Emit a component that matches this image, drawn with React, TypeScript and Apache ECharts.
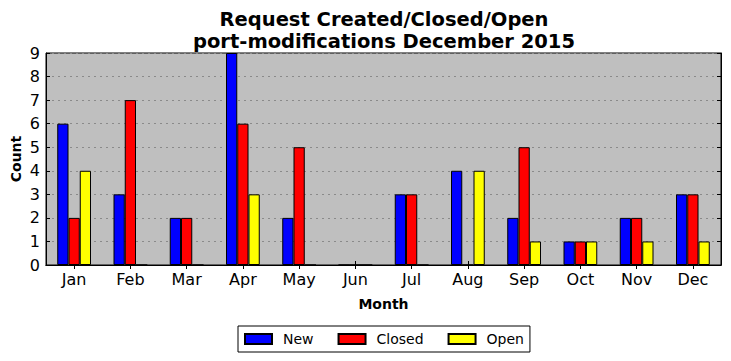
import React, { useEffect, useRef } from "react";
import * as echarts from "echarts";

const months = ["Jan", "Feb", "Mar", "Apr", "May", "Jun", "Jul", "Aug", "Sep", "Oct", "Nov", "Dec"];
const newCounts = [6, 3, 2, 9, 2, 0, 3, 4, 2, 1, 2, 3];
const closedCounts = [2, 7, 2, 6, 5, 0, 3, 0, 5, 1, 2, 3];
const openCounts = [4, 0, 0, 3, 0, 0, 0, 4, 1, 1, 1, 1];

const FONT = "DejaVu Sans";

export default function App() {
  const ref = useRef<HTMLDivElement>(null);
  useEffect(() => {
    if (!ref.current) return;
    const chart = echarts.init(ref.current, null, { renderer: "svg" });
    const barStyle = (color: string) => ({
      color,
      borderColor: "#000",
      borderWidth: 1,
    });
    chart.setOption({
      animation: false,
      textStyle: { fontFamily: FONT },
      title: {
        text: "Request Created/Closed/Open\nport-modifications December 2015",
        left: 379,
        textAlign: "center",
        top: 3,
        textStyle: { fontFamily: FONT, fontSize: 19.5, fontWeight: "bold", color: "#000", lineHeight: 22 },
      },
      legend: {
        left: 238,
        top: 326,
        padding: [6, 6, 6, 6],
        borderColor: "#000",
        borderWidth: 1,
        itemWidth: 27,
        itemHeight: 10,
        itemGap: 24,
        icon: "rect",
        textStyle: { fontFamily: FONT, fontSize: 14, color: "#000", padding: [0, 0, 0, 6] },
        data: ["New", "Closed", "Open"],
      },
      grid: {
        left: 46,
        right: 10,
        top: 53,
        bottom: 96,
        outerBoundsMode: "none",
        containLabel: false,
        show: true,
        backgroundColor: "#bfbfbf",
        borderColor: "#000",
        borderWidth: 1,
      },
      xAxis: [
        {
          type: "category",
          data: months,
          position: "bottom",
          name: "Month",
          nameLocation: "middle",
          nameGap: 32,
          nameMoveOverlap: false,
          nameTextStyle: { fontFamily: FONT, fontSize: 14, fontWeight: "bold", color: "#000" },
          axisLine: { show: true, lineStyle: { color: "#000" } },
          axisTick: { show: true, inside: true, alignWithLabel: true, length: 4, lineStyle: { color: "#000" } },
          axisLabel: { fontFamily: FONT, fontSize: 16, color: "#000", margin: 6 },
          splitLine: { show: false },
        },
        {
          type: "category",
          data: months,
          position: "top",
          axisLine: { show: true, lineStyle: { color: "#000" } },
          axisTick: { show: true, inside: true, alignWithLabel: true, length: 4, lineStyle: { color: "#000" } },
          axisLabel: { show: false },
          splitLine: { show: false },
        },
      ],
      yAxis: [
        {
          type: "value",
          min: 0,
          max: 9,
          interval: 1,
          position: "left",
          name: "Count",
          nameLocation: "middle",
          nameGap: 23,
          nameMoveOverlap: false,
          nameTextStyle: { fontFamily: FONT, fontSize: 14, fontWeight: "bold", color: "#000" },
          axisLine: { show: true, lineStyle: { color: "#000" } },
          axisTick: { show: true, inside: true, length: 4, lineStyle: { color: "#000" } },
          axisLabel: { fontFamily: FONT, fontSize: 16, color: "#000", margin: 6 },
          splitLine: { show: true, lineStyle: { color: "#8a8a8a", type: [2, 4], width: 1 } },
        },
        {
          type: "value",
          min: 0,
          max: 9,
          interval: 1,
          position: "right",
          axisLine: { show: true, lineStyle: { color: "#000" } },
          axisTick: { show: true, inside: true, length: 4, lineStyle: { color: "#000" } },
          axisLabel: { show: false },
          splitLine: { show: false },
        },
      ],
      series: [
        {
          name: "New",
          type: "bar",
          data: newCounts,
          barGap: "0%",
          barCategoryGap: "40%",
          itemStyle: barStyle("#0000ff"),
        },
        {
          name: "Closed",
          type: "bar",
          data: closedCounts,
          barGap: "0%",
          barCategoryGap: "40%",
          itemStyle: barStyle("#ff0000"),
        },
        {
          name: "Open",
          type: "bar",
          data: openCounts,
          barGap: "0%",
          barCategoryGap: "40%",
          itemStyle: barStyle("#ffff00"),
        },
      ],
    });
    return () => chart.dispose();
  }, []);
  return <div ref={ref} style={{ width: 731, height: 361, position: "absolute", left: 0, top: 0 }} />;
}
